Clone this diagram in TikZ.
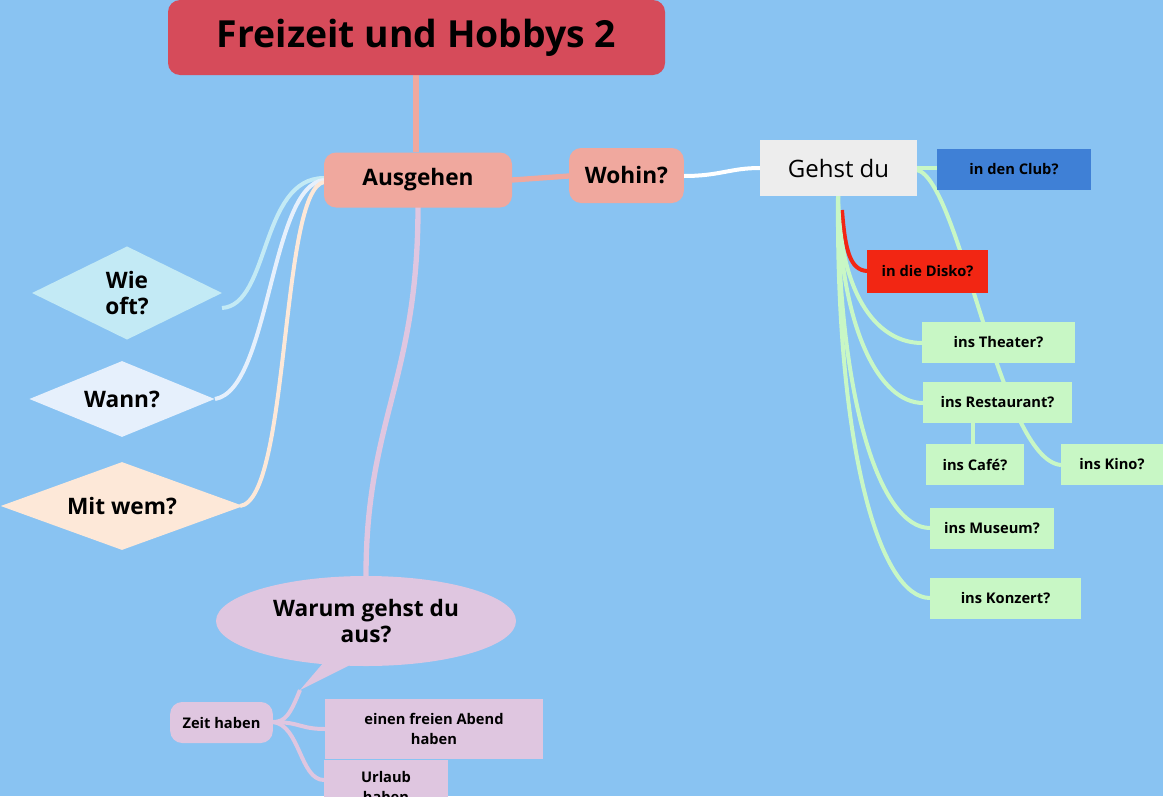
\documentclass[tikz,border=0pt]{standalone}
\usepackage{fontspec}
\setmainfont{Open Sans}
\usetikzlibrary{shapes.geometric,shapes.callouts}
\definecolor{bg}{HTML}{89C3F2}
\definecolor{titlec}{HTML}{D64B5A}
\definecolor{salm}{HTML}{F0A89E}
\definecolor{grn}{HTML}{C8F7C5}
\definecolor{clubc}{HTML}{3F80D6}
\definecolor{disk}{HTML}{F22613}
\definecolor{wie}{HTML}{C3EAF5}
\definecolor{wann}{HTML}{E6F0FC}
\definecolor{mit}{HTML}{FDE8D8}
\definecolor{lila}{HTML}{DFC6E0}
\begin{document}
\begin{tikzpicture}[x=0.75pt,y=-0.75pt,
  leaf/.style={fill=grn,minimum height=30.75pt,font=\bfseries\fontsize{11}{13}\selectfont,inner sep=0pt},
  dia/.style={diamond,aspect=2.2,inner sep=0pt,font=\bfseries\fontsize{17}{19}\selectfont,align=center},
  gl/.style={grn,line width=3pt},
  ll/.style={line width=3pt}]
\fill[bg] (0,0) rectangle (1163,796);
\useasboundingbox (0,0) rectangle (1163,796);
% connectors first
\coordinate (ga) at (838,196);
\draw[salm,line width=4pt] (416,75) -- (416,152);
\draw[salm,line width=4pt] (512,180) -- (569,176);
\draw[white,line width=3pt] (684,176) .. controls (720,176) and (730,168) .. (760,168);
\draw[lila,line width=4pt] (418,207) .. controls (418,380) and (366,420) .. (366,576);
\draw[wie,ll] (324,178) .. controls (260,178) and (270,305) .. (222,308);
\draw[wann,ll] (324,180) .. controls (270,185) and (270,390) .. (215,399);
\draw[mit,ll] (324,182) .. controls (280,190) and (290,500) .. (240,506);
\draw[grn,line width=3pt] (917,168) -- (937,168);
\draw[gl] (917,170) .. controls (960,180) and (1000,460) .. (1061,465);
\draw[disk,line width=3pt] (842,210) .. controls (845,250) and (850,270) .. (867,271);
\draw[gl] (ga) .. controls (840,300) and (880,343) .. (922,343);
\draw[gl] (ga) .. controls (840,330) and (880,403) .. (923,403);
\draw[gl] (973,423) -- (973,444);
\draw[gl] (ga) .. controls (838,400) and (880,528) .. (930,528);
\draw[gl] (ga) .. controls (836,450) and (880,598) .. (930,598);
\draw[lila,line width=3pt] (300,690) .. controls (290,715) and (285,722) .. (273,722);
\draw[lila,line width=3pt] (273,722) .. controls (300,722) and (300,729) .. (325,729);
\draw[lila,line width=3pt] (273,722) .. controls (300,725) and (300,780) .. (324,780);
% nodes
\node[fill=titlec,rounded corners=9pt,minimum width=372.75pt,minimum height=56.25pt,font=\bfseries\fontsize{28}{30}\selectfont] (title) at (416.5,37.5) {Freizeit und Hobbys 2};
\node[fill=salm,rounded corners=9pt,minimum width=141pt,minimum height=41.25pt,font=\bfseries\fontsize{17}{19}\selectfont] (aus) at (418,180) {Ausgehen};
\node[fill=salm,rounded corners=9pt,minimum width=86pt,minimum height=41.25pt,font=\bfseries\fontsize{17}{19}\selectfont] (wohin) at (626.5,175.5) {Wohin?};
\node[fill=black!7,minimum width=117.75pt,minimum height=42pt,font=\fontsize{18}{20}\selectfont] (gehst) at (838.5,168) {Gehst du};
\node[leaf,fill=clubc,minimum width=115.5pt] (club) at (1014,169) {in den Club?};
\node[leaf,fill=disk,minimum width=90.75pt,minimum height=32pt] (disko) at (927.5,271.5) {in die Disko?};
\node[leaf,minimum width=114.75pt] (thea) at (998.5,342.5) {ins Theater?};
\node[leaf,minimum width=111.75pt] (rest) at (997.5,402.5) {ins Restaurant?};
\node[leaf,minimum width=73.5pt] (cafe) at (975,464.5) {ins Café?};
\node[leaf,minimum width=76.5pt] (kino) at (1112,464.5) {ins Kino?};
\node[leaf,minimum width=93pt] (mus) at (992,528) {ins Museum?};
\node[leaf,minimum width=113.25pt] (konz) at (1005.5,598.5) {ins Konzert?};
\node[dia,fill=wie,minimum width=142.5pt,minimum height=70pt] (wieoft) at (127,293) {Wie\\oft?};
\node[dia,fill=wann,minimum width=139pt,minimum height=57pt] (wannn) at (122,399) {Wann?};
\node[dia,fill=mit,minimum width=182pt,minimum height=66pt] (mitw) at (122,506) {Mit wem?};
\fill[lila] (330,655) -- (300,690) -- (360,660) -- cycle;
\node[ellipse,fill=lila,minimum width=225pt,minimum height=67.5pt,inner sep=0pt,align=center,font=\bfseries\fontsize{17}{19}\selectfont] (warum) at (366,621) {Warum gehst du\\aus?};
\node[fill=lila,rounded corners=9pt,minimum width=77pt,minimum height=30.75pt,font=\bfseries\fontsize{11}{13}\selectfont] (zeit) at (221.5,722.5) {Zeit haben};
\node[fill=lila,minimum width=163.5pt,minimum height=45pt,align=center,font=\bfseries\fontsize{11}{15}\selectfont] (abend) at (434,729) {einen freien Abend\\haben};
\node[fill=lila,minimum width=93pt,minimum height=40pt,anchor=north,align=center,font=\bfseries\fontsize{11}{15}\selectfont] (urlaub) at (386,760) {Urlaub\\haben};
\end{tikzpicture}
\end{document}
